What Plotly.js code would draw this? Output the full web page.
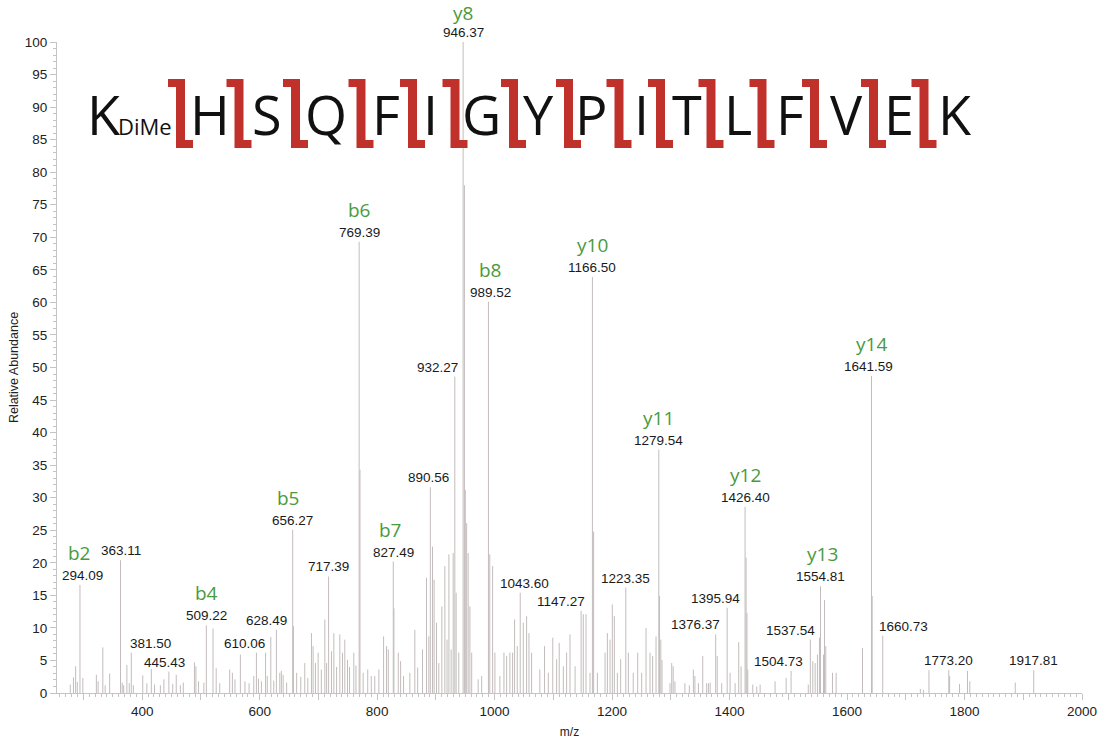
<!DOCTYPE html>
<html>
<head>
<meta charset="utf-8">
<script src="https://cdn.plot.ly/plotly-3.0.1.min.js"></script>
<style>
  html, body { margin: 0; padding: 0; background: #fff; }
  #chart { width: 1107px; height: 742px; }
</style>
</head>
<body>
<div id="chart"></div>
<script>
// Annotated peaks: m/z and relative abundance (%)
const labeledMz  = [294.09, 363.11, 381.50, 445.43, 509.22, 610.06, 628.49, 656.27, 717.39, 769.39,
                    827.49, 890.56, 932.27, 946.37, 989.52, 1043.60, 1147.27, 1166.50, 1223.35, 1279.54,
                    1376.37, 1395.94, 1426.40, 1504.73, 1537.54, 1554.81, 1641.59, 1660.73, 1773.20, 1917.81];
const labeledInt = [16.6, 20.4, 6.2, 3.3, 10.4, 6.2, 9.7, 25.1, 17.9, 69.3,
                    20.2, 31.6, 48.6, 100, 60.1, 15.4, 12.6, 63.9, 16.2, 37.4,
                    9.0, 13.1, 28.6, 3.4, 8.2, 16.4, 48.7, 8.8, 3.5, 3.5];

// Assigned b / y fragment ions
const ionNames = ['b2', 'b4', 'b5', 'b6', 'b7', 'y8', 'b8', 'y10', 'y11', 'y12', 'y13', 'y14'];
const ionMz    = [294.09, 509.22, 656.27, 769.39, 827.49, 946.37, 989.52, 1166.50, 1279.54, 1426.40, 1554.81, 1641.59];

// Remaining centroid peaks of the spectrum
const peakMz = [277.6, 283, 286.7, 289.5, 299, 322, 325, 333, 337, 344.6, 366, 368.5, 374, 378, 385,
  401, 408, 415.6, 421, 431, 437, 452, 458, 465, 470, 489, 491.5, 496, 505, 520.6, 526, 532,
  549, 553.6, 558, 567.2, 575, 582, 590, 594.5, 598, 603, 613, 619, 624, 634.3, 637, 640, 646,
  657.5, 663, 670, 676.8, 682, 688.2, 691, 695, 699.6, 705, 711, 714, 722.3, 726.3, 731, 736.5,
  741, 745, 749.5, 753, 760.3, 764, 770.8, 776.2, 784, 790, 796, 803, 811, 816, 819, 828.6,
  836, 840, 845, 855.7, 864.2, 869, 877.3, 884.1, 888, 894.3, 897, 901.1, 905, 910.2, 915.3,
  919, 922.2, 926, 929.5, 934.5, 939, 948.6, 950.1, 952.4, 955, 957.9, 961, 972, 978, 991.8,
  996.6, 1000.5, 1009, 1015.9, 1020.5, 1026, 1030.6, 1034, 1038.6, 1048.8, 1054.5, 1058.5,
  1063, 1077, 1085, 1091.4, 1099, 1105.6, 1110, 1117, 1122.6, 1128.3, 1137, 1151, 1155.6,
  1162.4, 1168.6, 1175, 1188, 1192, 1196.5, 1200.4, 1203.8, 1209, 1214.6, 1227.7, 1236,
  1243.6, 1250.4, 1257.8, 1264.6, 1269, 1274.8, 1280.8, 1283, 1285, 1298.6, 1301.5, 1304,
  1307, 1324, 1331.5, 1338.4, 1341, 1347, 1354.3, 1361, 1364, 1367, 1379, 1386.6, 1400.9,
  1409.4, 1415.6, 1419.6, 1428.1, 1429.6, 1431, 1439.5, 1446.3, 1452, 1477.5, 1496.3, 1534,
  1541.7, 1545.7, 1549.6, 1553, 1559.9, 1561.6, 1563.8, 1575.2, 1581.4, 1626.3, 1642.8,
  1724.8, 1730, 1739.5, 1774.6, 1791.5, 1805, 1809, 1886.4];
const peakInt = [1.3, 2.4, 4.1, 1.7, 2.3, 2.8, 1.8, 7.0, 1.2, 3.0, 1.6, 1.2, 4.3, 1.5, 1.2,
  2.7, 1.5, 3.7, 1.3, 1.2, 2.1, 1.4, 2.8, 1.2, 1.6, 4.7, 4.1, 1.8, 1.6, 9.9, 3.8, 1.5,
  3.6, 3.1, 2.1, 5.9, 1.8, 1.5, 2.6, 6.2, 2.2, 1.8, 2.6, 8.6, 1.9, 3.1, 3.4, 2.8, 1.6,
  10.3, 3.1, 2.5, 4.6, 2.3, 9.2, 7.2, 4.6, 6.2, 3.6, 11.3, 4.6, 6.4, 9.2, 4.0, 9.0,
  6.2, 8.2, 5.1, 4.0, 6.2, 4.2, 34.3, 3.1, 3.6, 2.6, 2.6, 3.6, 8.7, 7.2, 6.7, 13.0,
  6.2, 4.9, 2.6, 3.1, 9.7, 3.9, 6.7, 17.7, 8.7, 22.5, 17.4, 10.8, 4.6, 13.3, 19.5,
  8.2, 21.3, 6.7, 21.5, 15.4, 6.2, 78.0, 31.2, 26.1, 21.5, 13.3, 6.2, 2.1, 2.6, 21.3,
  19.5, 6.2, 2.6, 6.2, 5.7, 6.2, 6.2, 11.3, 7.2, 10.8, 11.8, 9.2,
  6.2, 3.6, 7.2, 3.1, 8.5, 5.2, 7.7, 4.1, 6.2, 9.0, 4.1, 12.1, 12.1,
  3.1, 24.8, 3.1, 6.2, 9.2, 8.2, 13.6, 11.8, 3.1, 5.2, 6.2, 3.1,
  6.2, 3.1, 10.0, 6.2, 5.7, 8.7, 14.9, 8.2, 5.1, 1.5, 4.6, 4.1,
  1.8, 1.5, 1.2, 3.6, 2.6, 1.5, 5.7, 1.5, 1.5, 1.6, 5.7, 1.5, 3.1,
  1.5, 7.8, 4.1, 20.8, 12.3, 3.6, 1.3, 1.0, 1.3, 1.8, 2.3, 1.3,
  4.9, 4.6, 5.9, 8.5, 5.9, 14.3, 7.2, 3.1, 3.1, 6.9, 14.9,
  0.6, 0.5, 3.5, 2.6, 1.4, 3.4, 1.8, 1.6];

// Peptide sequence with dimethylated N-terminal lysine
const nTermResidue = 'K';
const nTermMod = 'DiMe';
const residues = ['H', 'S', 'Q', 'F', 'I', 'G', 'Y', 'P', 'I', 'T', 'L', 'F', 'V', 'E', 'K'];

// Axis ticks
const xTickVals = [300, 400, 500, 600, 700, 800, 900, 1000, 1100, 1200, 1300, 1400, 1500, 1600, 1700, 1800, 1900, 2000];
const xTickText = xTickVals.map(v => (v % 200 === 0 ? String(v) : ''));

// ---- figure geometry ----
const W = 1107, H = 742;
const M = { l: 57, r: 25, t: 42, b: 49 };
const plotW = W - M.l - M.r, plotH = H - M.t - M.b;
const pxX = px => (px - M.l) / plotW;          // pixel column -> paper x
const pxY = py => (H - M.b - py) / plotH;       // pixel row -> paper y

// Stick spectrum: one vertical segment per centroid
const allMz = labeledMz.concat(peakMz);
const allInt = labeledInt.concat(peakInt);
const sx = [], sy = [];
allMz.forEach((m, i) => { sx.push(m, m, null); sy.push(0, allInt[i], null); });

const stick = {
  type: 'scatter', mode: 'lines', x: sx, y: sy,
  line: { color: 'rgb(196,188,188)', width: 1 },
  hoverinfo: 'skip', showlegend: false, cliponaxis: false
};

// horizontal nudges (px) for peak labels sitting beside their line
const labelShift = { 294.09: 3, 381.5: 19, 445.43: -4, 610.06: -21, 628.49: -10, 890.56: -2, 932.27: -17,
  989.52: 2, 1043.6: 4, 1147.27: -20, 1376.37: -20, 1395.94: -12, 1504.73: -13, 1537.54: -20,
  1641.59: -3, 1660.73: 21 };
const ionShift = { 656.27: -4, 827.49: -3, 989.52: 2, 1554.81: 2 };

const annotations = [];
labeledMz.forEach((m, i) => {
  annotations.push({
    x: m, y: labeledInt[i], xref: 'x', yref: 'y',
    text: m.toFixed(2), showarrow: false,
    xanchor: 'center', yanchor: 'bottom', xshift: labelShift[m] || 0, yshift: 0,
    font: { family: 'Arial, "Liberation Sans", sans-serif', size: 13.5, color: '#1a1a1a' }
  });
});
ionNames.forEach((name, i) => {
  const m = ionMz[i];
  const h = labeledInt[labeledMz.indexOf(m)];
  annotations.push({
    x: m, y: h, xref: 'x', yref: 'y',
    text: name, showarrow: false,
    xanchor: 'center', yanchor: 'bottom', xshift: ionShift[m] || 0, yshift: (name === 'y8' ? 14 : 17),
    font: { family: '"Open Sans", "Noto Sans", sans-serif', size: 19, color: '#4a9a3e' }
  });
});

// Peptide sequence header
const seqFont = { family: '"Open Sans", "Noto Sans", sans-serif', size: 54, color: '#111' };
const seqRowY = 114;   // vertical centre of capitals (px)
annotations.push({
  x: pxX(104), y: pxY(seqRowY), xref: 'paper', yref: 'paper', text: nTermResidue, showarrow: false,
  xanchor: 'center', yanchor: 'middle', font: seqFont
});
annotations.push({
  x: pxX(145), y: pxY(126), xref: 'paper', yref: 'paper', text: nTermMod, showarrow: false,
  xanchor: 'center', yanchor: 'middle',
  font: { family: seqFont.family, size: 22, color: '#111' }
});
const residueCx = [210, 267, 326, 386, 430.5, 481, 538.5, 591, 641, 687, 738, 790, 846, 899, 955];
residues.forEach((r, i) => {
  annotations.push({
    x: pxX(residueCx[i]), y: pxY(seqRowY), xref: 'paper', yref: 'paper', text: r, showarrow: false,
    xanchor: 'center', yanchor: 'middle', font: seqFont
  });
});

// Red cleavage markers between residues
const bracketCx = [180.5, 239, 295.5, 361, 412.5, 455, 513.5, 568.5, 619, 660.5, 711, 762, 814.5, 873.5, 924];
const shapes = bracketCx.map(cx => {
  const top = 79, bot = 148, hw = 4.5, ext = 8, th = 8;
  const pts = [
    [cx - hw - ext, top], [cx + hw, top], [cx + hw, bot - th], [cx + hw + ext, bot - th],
    [cx + hw + ext, bot], [cx - hw, bot], [cx - hw, top + th], [cx - hw - ext, top + th]
  ];
  const path = 'M ' + pts.map(p => pxX(p[0]).toFixed(5) + ',' + pxY(p[1]).toFixed(5)).join(' L ') + ' Z';
  return { type: 'path', xref: 'paper', yref: 'paper', path: path,
           fillcolor: '#c1312b', line: { width: 0 }, layer: 'above' };
});

const tickFont = { family: 'Arial, "Liberation Sans", sans-serif', size: 13.5, color: '#222' };
const axisGrey = '#c4c4c4';

const layout = {
  width: W, height: H,
  margin: M,
  paper_bgcolor: '#fff', plot_bgcolor: '#fff',
  showlegend: false,
  xaxis: {
    range: [255, 2000], tickmode: 'array', tickvals: xTickVals, ticktext: xTickText,
    ticks: 'outside', ticklen: 6, tickwidth: 1, tickcolor: axisGrey,
    showline: true, linecolor: axisGrey, linewidth: 1,
    showgrid: false, zeroline: false, automargin: false,
    tickfont: tickFont,
    minor: { tickmode: 'linear', tick0: 0, dtick: 10, ticks: 'outside', ticklen: 3, tickcolor: axisGrey, showgrid: false },
    title: { text: 'm/z', font: { family: tickFont.family, size: 12, color: '#222' }, standoff: 9 }
  },
  yaxis: {
    range: [0, 100], tickmode: 'linear', tick0: 0, dtick: 5,
    ticks: 'outside', ticklen: 6, tickwidth: 1, tickcolor: axisGrey,
    showline: true, linecolor: axisGrey, linewidth: 1,
    showgrid: false, zeroline: false, automargin: false,
    tickfont: tickFont,
    minor: { tickmode: 'linear', tick0: 0, dtick: 1, ticks: 'outside', ticklen: 3, tickcolor: axisGrey, showgrid: false },
    title: { text: 'Relative Abundance', font: { family: tickFont.family, size: 12.5, color: '#222' }, standoff: 3 }
  },
  annotations: annotations,
  shapes: shapes
};

Plotly.newPlot('chart', [stick], layout, { displayModeBar: false, staticPlot: true });
</script>
</body>
</html>
